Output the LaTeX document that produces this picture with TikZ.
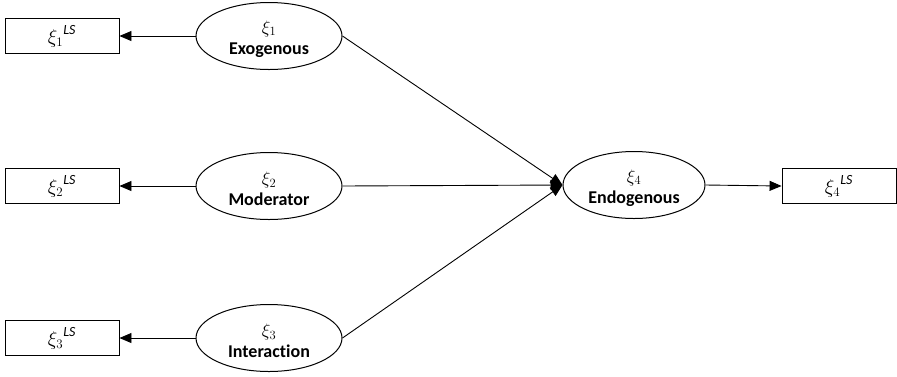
\RequirePackage{fix-cm}
\documentclass[tikz,border=0pt]{standalone}
\usepackage{fontspec}
\setmainfont{Carlito}[Ligatures=NoCommon]
\DeclareMathSizes{18}{18}{12.6}{9}
\DeclareMathSizes{20}{20}{13}{10}
\usetikzlibrary{arrows.meta,shapes.geometric}
\newcommand{\bigfont}{\fontsize{18}{21}\selectfont}
\newcommand{\boxfont}{\fontsize{20}{22}\selectfont}
\newcommand{\lsmark}{\mbox{\fontsize{14}{15}\selectfont\itshape LS}}
\begin{document}
\begin{tikzpicture}[x=1pt,y=-1pt,
  font=\bigfont,
  latent/.style={draw,line width=1pt,ellipse,minimum width=146pt,minimum height=67pt,inner sep=0pt},
  caption/.style={align=center,inner sep=0pt,font=\bigfont\bfseries},
  score/.style={draw,line width=0.9pt,rectangle,minimum width=114pt,minimum height=35pt,inner sep=0pt,font=\boxfont},
  path/.style={-{Triangle[length=12pt,width=10pt]},line width=0.9pt}]
\useasboundingbox (0,0) rectangle (897,376);
% latent variables
\node[latent] (x1) at (269,36) {};
\node[latent] (x2) at (269,186) {};
\node[latent] (x3) at (269,338) {};
\node[latent,minimum width=142pt] (x4) at (634,185) {};
\node[caption] (x1t) at (269,39) {$\xi_1$\\Exogenous};
\node[caption] (x2t) at (269,189) {$\xi_2$\\Moderator};
\node[caption] (x3t) at (269,341) {$\xi_3$\\Interaction};
\node[caption] (x4t) at (634,188) {$\xi_4$\\Endogenous};
% latent variable scores
\node[score] (s1) at (62,36) {${\xi_1}^{\lsmark}$};
\node[score] (s2) at (62,186) {${\xi_2}^{\lsmark}$};
\node[score] (s3) at (62,338) {${\xi_3}^{\lsmark}$};
\node[score] (s4) at (839,186) {${\xi_4}^{\lsmark}$};
% connectors
\draw[path] (x1.west) -- (s1.east);
\draw[path] (x2.west) -- (s2.east);
\draw[path] (x3.west) -- (s3.east);
\draw[path] (x1.east) -- (x4.west);
\draw[path] (x2.east) -- (x4.west);
\draw[path] (x3.east) -- (x4.west);
\draw[path] (x4.east) -- (s4.west);
\end{tikzpicture}
\end{document}
